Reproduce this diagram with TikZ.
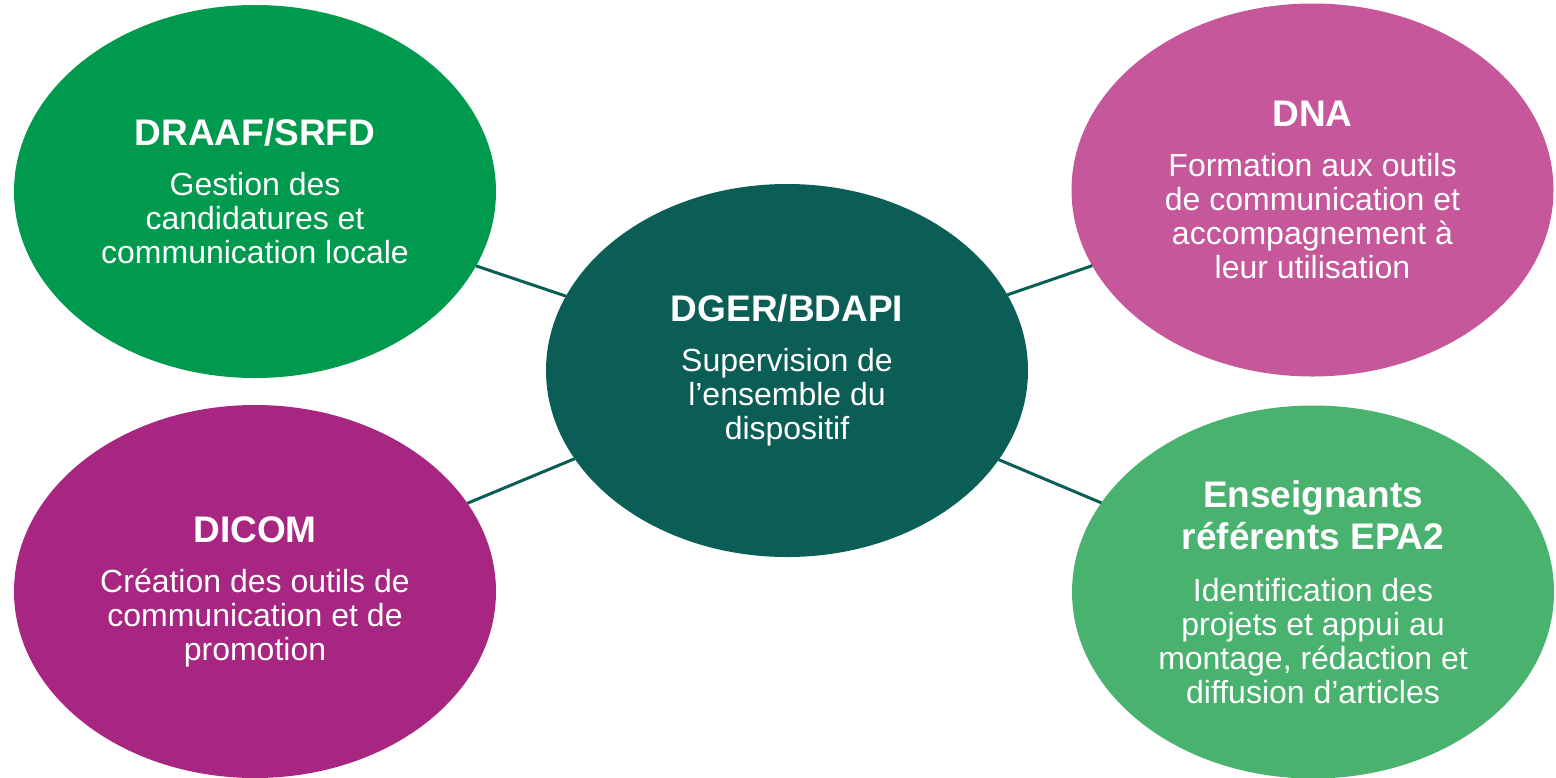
\documentclass[tikz,border=0pt]{standalone}
\usepackage{fontspec}
\setmainfont{Liberation Sans}
\usetikzlibrary{shapes.geometric}
\definecolor{cTL}{RGB}{0,154,78}
\definecolor{cC}{RGB}{11,94,85}
\definecolor{cTR}{RGB}{197,87,154}
\definecolor{cBL}{RGB}{166,38,130}
\definecolor{cBR}{RGB}{74,178,111}
\definecolor{cLine}{RGB}{11,94,85}
\newcommand{\ttl}[1]{{\fontsize{18.5}{19.5}\selectfont\bfseries #1}}
\tikzset{
  bubble/.style={ellipse, inner sep=0pt, outer sep=0pt, minimum width=241pt,
    minimum height=186.5pt, text=white, align=center,
    font=\fontsize{16}{17}\selectfont},
  link/.style={draw=cLine, line width=1.5pt}
}
\begin{document}
\begin{tikzpicture}[x=0.5pt,y=-0.5pt]
\useasboundingbox (0,0) rectangle (1556,777);
\node[bubble, fill=cTL] (tl) at (255,191.5) {\ttl{DRAAF/SRFD}\\[8pt]Gestion des\\candidatures et\\communication locale};
\node[bubble, fill=cBL] (bl) at (255,591.5) {\ttl{DICOM}\\[8pt]Création des outils de\\communication et de\\promotion};
\node[bubble, fill=cC] (c) at (787,370.5) {\ttl{DGER/BDAPI}\\[8pt]Supervision de\\l’ensemble du\\dispositif};
\node[bubble, fill=cTR] (tr) at (1312.5,190) {\ttl{DNA}\\[8pt]Formation aux outils\\de communication et\\accompagnement à\\leur utilisation};
\node[bubble, fill=cBR] (br) at (1313,592) {\ttl{Enseignants}\\[2.5pt]\ttl{référents EPA2}\\[9pt]Identification des\\projets et appui au\\montage, rédaction et\\diffusion d’articles};
\draw[link] (tl) -- (c);
\draw[link] (bl) -- (c);
\draw[link] (tr) -- (c);
\draw[link] (br) -- (c);
\end{tikzpicture}
\end{document}
